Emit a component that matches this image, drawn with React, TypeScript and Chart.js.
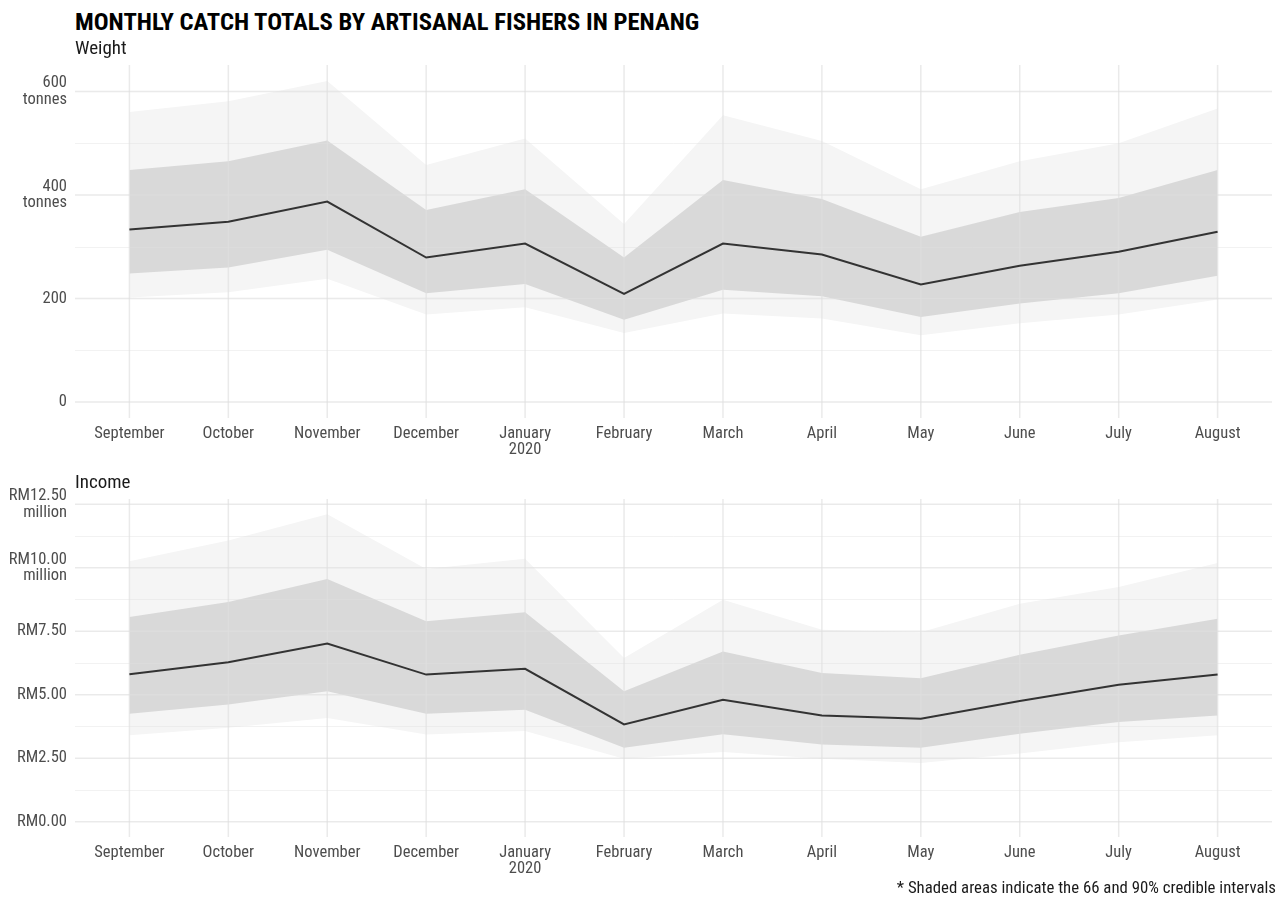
import React, { useEffect, useRef } from 'react';
import { Chart, registerables } from 'chart.js';

Chart.register(...registerables);

const FONT = '"Roboto Condensed", "Liberation Sans Narrow", "Arial Narrow", "DejaVu Sans Condensed", Roboto, sans-serif';

// ---- categories ----
const months = ['September', 'October', 'November', 'December', 'January', 'February', 'March', 'April', 'May', 'June', 'July', 'August'];
const monthLabels: (string | string[])[] = ['September', 'October', 'November', 'December', ['January', '2020'], 'February', 'March', 'April', 'May', 'June', 'July', 'August'];

// ---- weight (tonnes) ----
const weightMedian = [333, 348, 387, 279, 306, 209, 306, 285, 227, 263, 290, 329];
const weightHi66 = [448, 465, 505, 371, 411, 279, 429, 392, 319, 367, 394, 448];
const weightLo66 = [248, 260, 294, 210, 228, 159, 217, 204, 164, 190, 210, 244];
const weightHi90 = [560, 581, 620, 458, 509, 344, 554, 504, 411, 465, 500, 567];
const weightLo90 = [202, 212, 238, 169, 183, 133, 171, 161, 129, 152, 169, 198];
const weightTickValues = [0, 200, 400, 600];
const weightTickLabels: (string | string[])[] = ['0', '200', ['400', 'tonnes'], ['600', 'tonnes']];
const weightMinorTicks = [100, 300, 500];

// ---- income (RM million) ----
const incomeMedian = [5.80, 6.28, 7.01, 5.79, 6.02, 3.83, 4.80, 4.18, 4.05, 4.75, 5.39, 5.79];
const incomeHi66 = [8.06, 8.65, 9.55, 7.89, 8.25, 5.13, 6.70, 5.85, 5.65, 6.57, 7.33, 7.99];
const incomeLo66 = [4.25, 4.61, 5.13, 4.25, 4.41, 2.91, 3.44, 3.04, 2.91, 3.46, 3.92, 4.18];
const incomeHi90 = [10.25, 11.07, 12.10, 9.95, 10.35, 6.44, 8.74, 7.56, 7.46, 8.58, 9.24, 10.18];
const incomeLo90 = [3.40, 3.70, 4.08, 3.43, 3.57, 2.48, 2.74, 2.48, 2.31, 2.68, 3.13, 3.40];
const incomeTickValues = [0, 2.5, 5, 7.5, 10, 12.5];
const incomeTickLabels: (string | string[])[] = ['RM0.00', 'RM2.50', 'RM5.00', 'RM7.50', ['RM10.00', 'million'], ['RM12.50', 'million']];
const incomeMinorTicks = [1.25, 3.75, 6.25, 8.75, 11.25];

const TITLE = 'MONTHLY CATCH TOTALS BY ARTISANAL FISHERS IN PENANG';
const CAPTION = '* Shaded areas indicate the 66 and 90% credible intervals';

const TICK_FONT = { family: FONT, size: 16.5, lineHeight: 1.0 };

const ggPlugin = {
  id: 'ggGrid',
  beforeDatasetDraw(chart: any, args: any, opts: any) {
    if (args.index !== 0) return;
    const { ctx, chartArea: a, scales } = chart;
    const x = scales.x;
    const y = scales.y;
    ctx.save();
    ctx.lineCap = 'butt';
    // minor horizontal
    ctx.strokeStyle = 'rgba(223,223,223,0.42)';
    ctx.lineWidth = 1;
    for (const v of opts.minor) {
      const py = Math.round(y.getPixelForValue(v)) + 0.5;
      ctx.beginPath();
      ctx.moveTo(a.left, py);
      ctx.lineTo(a.right, py);
      ctx.stroke();
    }
    // major horizontal
    ctx.strokeStyle = 'rgba(223,223,223,0.65)';
    ctx.lineWidth = 1.5;
    for (const v of opts.major) {
      const py = y.getPixelForValue(v);
      ctx.beginPath();
      ctx.moveTo(a.left, py);
      ctx.lineTo(a.right, py);
      ctx.stroke();
    }
    // vertical
    for (let i = 0; i < opts.count; i++) {
      const px = x.getPixelForValue(i);
      ctx.beginPath();
      ctx.moveTo(px, a.top);
      ctx.lineTo(px, a.bottom);
      ctx.stroke();
    }
    ctx.restore();
  },
  afterDraw(chart: any, _args: any, opts: any) {
    const { ctx, chartArea: a } = chart;
    ctx.save();
    ctx.font = `19px ${FONT}`;
    ctx.fillStyle = '#1a1a1a';
    ctx.textBaseline = 'middle';
    ctx.textAlign = 'left';
    ctx.fillText(opts.subtitle, a.left, a.top - 16);
    ctx.restore();
  },
};

type PanelProps = {
  subtitle: string;
  median: number[];
  hi66: number[];
  lo66: number[];
  hi90: number[];
  lo90: number[];
  tickValues: number[];
  tickLabels: (string | string[])[];
  minorTicks: number[];
  top: number;
  height: number;
  padTop: number;
  xHeight: number;
};

function Panel(p: PanelProps) {
  const ref = useRef<HTMLCanvasElement>(null);
  useEffect(() => {
    if (!ref.current) return;
    const pts = (arr: number[]) => arr.map((v, i) => ({ x: i, y: v }));
    const maxV = Math.max(...p.hi90);
    const expY = maxV * 0.05;
    const expX = (months.length - 1) * 0.05;
    const band = { borderWidth: 0, pointRadius: 0, tension: 0 };
    const chart = new Chart(ref.current, {
      type: 'line',
      data: {
        datasets: [
          { label: 'median', data: pts(p.median), borderColor: '#333333', borderWidth: 2, pointRadius: 0, fill: false, tension: 0 },
          { label: 'hi66', data: pts(p.hi66), ...band, backgroundColor: '#d9d9d9', fill: '+1' },
          { label: 'lo66', data: pts(p.lo66), ...band, fill: false },
          { label: 'hi90', data: pts(p.hi90), ...band, backgroundColor: '#f5f5f5', fill: '+1' },
          { label: 'lo90', data: pts(p.lo90), ...band, fill: false },
        ],
      },
      options: {
        animation: false,
        responsive: false,
        events: [],
        layout: { padding: { top: p.padTop, left: 0, right: 6, bottom: 0 } },
        plugins: {
          legend: { display: false },
          tooltip: { enabled: false },
          title: { display: false },
          ggGrid: { subtitle: p.subtitle, major: p.tickValues, minor: p.minorTicks, count: months.length },
        } as any,
        scales: {
          x: {
            type: 'linear',
            min: -expX,
            max: months.length - 1 + expX,
            grid: { display: false, drawTicks: false },
            border: { display: false },
            afterBuildTicks: (s: any) => { s.ticks = months.map((_, i) => ({ value: i })); },
            afterFit: (s: any) => { s.height = p.xHeight; },
            ticks: {
              autoSkip: false,
              maxRotation: 0,
              minRotation: 0,
              padding: 7.5,
              color: '#4d4d4d',
              font: TICK_FONT,
              callback: (v: any) => monthLabels[Math.round(Number(v))] as any,
            },
          },
          y: {
            type: 'linear',
            min: -expY,
            max: maxV + expY,
            grid: { display: false, drawTicks: false },
            border: { display: false },
            afterBuildTicks: (s: any) => {
              s.ticks = [...p.tickValues, ...p.minorTicks].sort((a, b) => a - b).map((v) => ({ value: v }));
            },
            afterFit: (s: any) => { s.width = 75; },
            ticks: {
              autoSkip: false,
              padding: 8,
              color: '#4d4d4d',
              font: TICK_FONT,
              callback: (v: any) => {
                const i = p.tickValues.indexOf(Number(v));
                return (i >= 0 ? p.tickLabels[i] : '') as any;
              },
            },
          },
        },
      },
      plugins: [ggPlugin as any],
    });
    return () => chart.destroy();
  }, []);
  return (
    <canvas
      ref={ref}
      width={1278}
      height={p.height}
      style={{ position: 'absolute', left: 0, top: p.top, width: 1278, height: p.height, display: 'block' }}
    />
  );
}

export default function App() {
  return (
    <div style={{ position: 'absolute', left: 0, top: 0, width: 1278, height: 897, background: '#ffffff', overflow: 'hidden' }}>
      <div style={{ position: 'absolute', left: 75, top: 9, fontFamily: FONT, fontWeight: 700, fontSize: 24.7, lineHeight: '25px', color: '#000', whiteSpace: 'nowrap' }}>
        {TITLE}
      </div>
      <Panel
        subtitle="Weight"
        median={weightMedian}
        hi66={weightHi66}
        lo66={weightLo66}
        hi90={weightHi90}
        lo90={weightLo90}
        tickValues={weightTickValues}
        tickLabels={weightTickLabels}
        minorTicks={weightMinorTicks}
        top={30}
        height={440}
        padTop={35}
        xHeight={52}
      />
      <Panel
        subtitle="Income"
        median={incomeMedian}
        hi66={incomeHi66}
        lo66={incomeLo66}
        hi90={incomeHi90}
        lo90={incomeLo90}
        tickValues={incomeTickValues}
        tickLabels={incomeTickLabels}
        minorTicks={incomeMinorTicks}
        top={465}
        height={420}
        padTop={34}
        xHeight={48}
      />
      <div style={{ position: 'absolute', right: 2, top: 879, fontFamily: FONT, fontSize: 16.8, lineHeight: '16px', color: '#1a1a1a', whiteSpace: 'nowrap' }}>
        {CAPTION}
      </div>
    </div>
  );
}
